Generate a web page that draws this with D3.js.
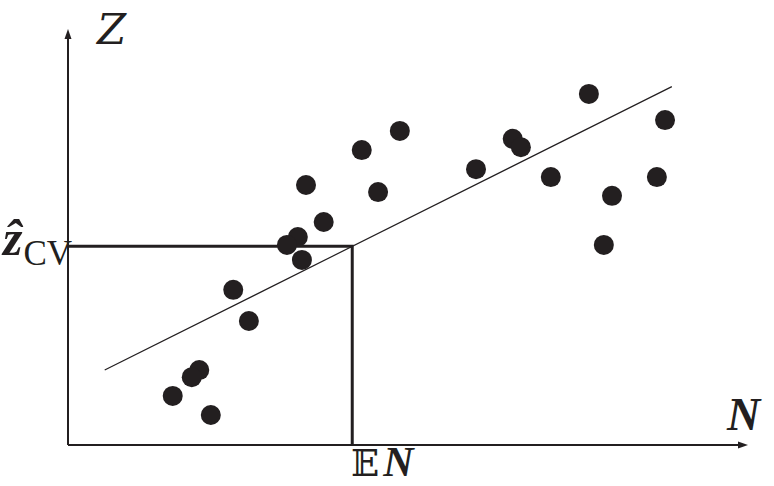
<!DOCTYPE html>
<html>
<head>
<meta charset="utf-8">
<script src="https://cdn.jsdelivr.net/npm/d3@7"></script>
<style>
  body { margin: 0; background: #fff; }
  svg { display: block; }
</style>
</head>
<body>
<div id="chart"></div>
<script>
// scatter values (N, Z) in axis units 0..10
var nValues = [7.66, 8.78, 4.88, 6.54, 6.66, 4.32, 6.00, 7.10, 8.66, 3.50, 4.56, 8.00,
               3.76, 3.38, 3.22, 7.88, 3.44, 2.43, 2.66, 1.93, 1.82, 1.54, 2.10];
var zValues = [8.44, 7.81, 7.55, 7.36, 7.16, 7.09, 6.63, 6.44, 6.44, 6.25, 6.08, 5.99,
               5.36, 5.00, 4.81, 4.81, 4.45, 3.73, 2.98, 1.80, 1.63, 1.18, 0.72];
// fitted line Z = a + b N, drawn between lineN
var lineN = [0.54, 8.88];
var intercept = 1.36;
var slope = 0.817;
var expectedN = 4.18;
var axisMax = 10;

var W = 774, H = 486;
var ink = "#231f20";

var svg = d3.select("#chart").append("svg")
    .attr("width", W)
    .attr("height", H);

var x = d3.scaleLinear().domain([0, axisMax]).range([68, 748]);
var y = d3.scaleLinear().domain([0, axisMax]).range([445, 29]);

var zCV = intercept + slope * expectedN;

// axes with arrowheads
svg.append("line")
    .attr("x1", x(0)).attr("y1", y(0))
    .attr("x2", x(0)).attr("y2", y(axisMax) + 6)
    .attr("stroke", ink).attr("stroke-width", 2);
svg.append("path")
    .attr("d", `M${x(0)},${y(axisMax)} L${x(0) - 3.5},${y(axisMax) + 10} L${x(0) + 3.5},${y(axisMax) + 10}Z`)
    .attr("fill", ink);

svg.append("line")
    .attr("x1", x(0)).attr("y1", y(0))
    .attr("x2", x(axisMax) - 6).attr("y2", y(0))
    .attr("stroke", ink).attr("stroke-width", 2);
svg.append("path")
    .attr("d", `M${x(axisMax)},${y(0)} L${x(axisMax) - 10},${y(0) - 3.5} L${x(axisMax) - 10},${y(0) + 3.5}Z`)
    .attr("fill", ink);

// rectangle up to (E N, z_CV)
svg.append("path")
    .attr("d", `M${x(0)},${y(zCV)} L${x(expectedN)},${y(zCV)} L${x(expectedN)},${y(0)}`)
    .attr("fill", "none")
    .attr("stroke", ink)
    .attr("stroke-width", 3);

// regression line
svg.append("line")
    .attr("x1", x(lineN[0])).attr("y1", y(intercept + slope * lineN[0]))
    .attr("x2", x(lineN[1])).attr("y2", y(intercept + slope * lineN[1]))
    .attr("stroke", ink).attr("stroke-width", 1.2);

// dots
var pts = nValues.map(function(n, i) { return {n: n, z: zValues[i]}; });
svg.selectAll(".dot")
    .data(pts)
    .enter().append("circle")
    .attr("class", "dot")
    .attr("cx", function(d) { return x(d.n); })
    .attr("cy", function(d) { return y(d.z); })
    .attr("r", 10)
    .attr("fill", ink);

// labels
var serif = "'Liberation Serif', 'DejaVu Serif', serif";

svg.append("text")
    .attr("x", 97).attr("y", 44)
    .attr("font-family", "'DejaVu Serif', serif")
    .attr("font-style", "italic")
    .attr("font-size", 42)
    .attr("fill", ink)
    .text("Z");

svg.append("text")
    .attr("x", 727).attr("y", 430)
    .attr("font-family", serif)
    .attr("font-style", "italic")
    .attr("font-weight", "bold")
    .attr("font-size", 46)
    .attr("fill", ink)
    .text("N");

var en = svg.append("text")
    .attr("x", 351).attr("y", 476)
    .attr("font-family", serif)
    .attr("font-size", 42)
    .attr("fill", ink);
en.append("tspan")
    .attr("font-family", "'DejaVu Serif', 'DejaVu Sans', serif")
    .attr("font-size", 37)
    .text("\uD835\uDD3C");
en.append("tspan")
    .attr("dx", 4)
    .attr("font-style", "italic")
    .attr("font-weight", "bold")
    .text("N");

var zl = svg.append("text")
    .attr("x", 3).attr("y", 255)
    .attr("font-family", serif)
    .attr("fill", ink);
zl.append("tspan")
    .attr("font-size", 50)
    .attr("font-style", "italic")
    .attr("font-weight", "bold")
    .text("\u1E91");
zl.append("tspan")
    .attr("font-size", 35)
    .attr("dy", 10)
    .attr("dx", 1)
    .text("CV");
</script>
</body>
</html>
